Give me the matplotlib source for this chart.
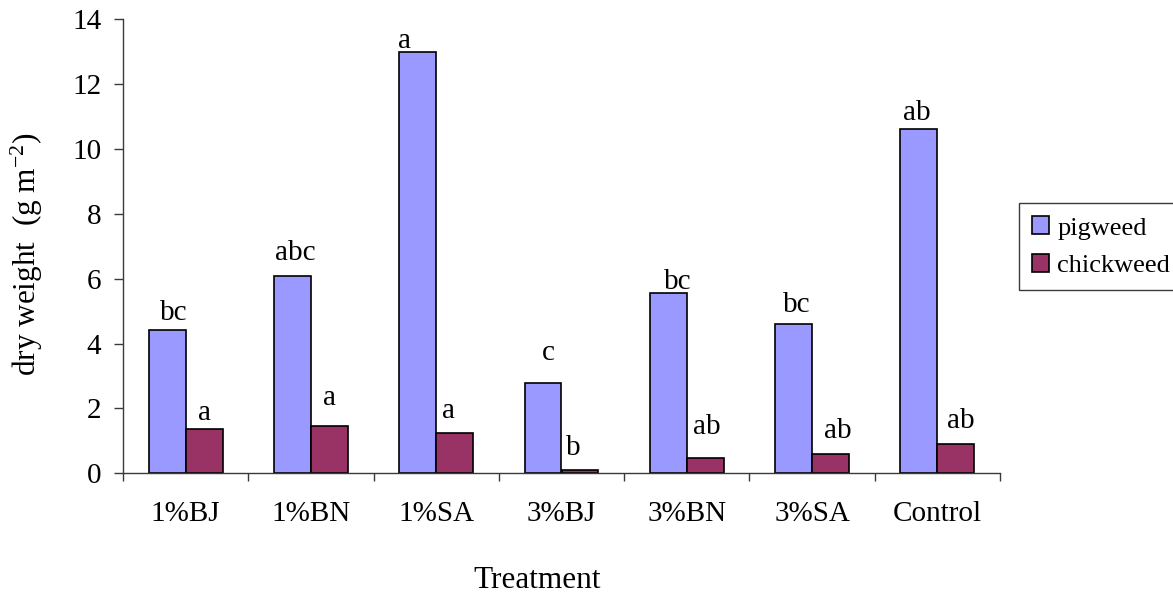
import numpy as np
import matplotlib
matplotlib.use("Agg")
import matplotlib.pyplot as plt
from matplotlib.ticker import FixedLocator

# --- dados ---
treatments = ['1%BJ', '1%BN', '1%SA', '3%BJ', '3%BN', '3%SA', 'Control']
pigweed = [4.42, 6.07, 12.97, 2.77, 5.57, 4.59, 10.61]
chickweed = [1.36, 1.47, 1.25, 0.09, 0.48, 0.59, 0.91]
pigweed_letters = ['bc', 'abc', 'a', 'c', 'bc', 'bc', 'ab']
chickweed_letters = ['a', 'a', 'a', 'b', 'ab', 'ab', 'ab']

# deslocamento das letras (pixels) em relação ao topo da barra
pig_dx = [7, 3, -13, 5, 9, 3, -2]
pig_dy = [10, 16, 4, 23, 4, 12, 9]
chick_dx = [0, 0, -6, -7, 2, 7, 5]
chick_dy = [9, 21, 15, 15, 24, 16, 16]

PIG_COLOR = '#9999FF'
CHICK_COLOR = '#993366'
SPINE_COLOR = '#3a3a3a'

plt.rcParams['font.family'] = ['Liberation Serif', 'DejaVu Serif']
plt.rcParams['mathtext.fontset'] = 'custom'
plt.rcParams['mathtext.rm'] = 'Liberation Serif'
plt.rcParams['mathtext.default'] = 'rm'

fig = plt.figure(figsize=(11.73, 5.96), dpi=100)
ax = fig.add_axes([123 / 1173, 0.2059, 877 / 1173, 0.7621])

x = np.arange(len(treatments))
width = 0.295
b1 = ax.bar(x - width / 2, pigweed, width, color=PIG_COLOR, edgecolor='black',
            linewidth=1.2, label='pigweed')
b2 = ax.bar(x + width / 2, chickweed, width, color=CHICK_COLOR, edgecolor='black',
            linewidth=1.2, label='chickweed')

for i in range(len(treatments)):
    ax.annotate(pigweed_letters[i], (x[i] - width / 2, pigweed[i]),
                xytext=(pig_dx[i], pig_dy[i]), textcoords='offset pixels',
                ha='center', va='baseline', fontsize=21)
    ax.annotate(chickweed_letters[i], (x[i] + width / 2, chickweed[i]),
                xytext=(chick_dx[i], chick_dy[i]), textcoords='offset pixels',
                ha='center', va='baseline', fontsize=21)

ax.set_xlim(-0.5, len(treatments) - 0.5)
ax.set_ylim(0, 14)
ax.set_yticks(np.arange(0, 15, 2))

# ticks maiores nas fronteiras, rótulos nos centros
ax.xaxis.set_major_locator(FixedLocator(np.arange(-0.5, len(treatments), 1.0)))
ax.xaxis.set_minor_locator(FixedLocator(x))
ax.set_xticklabels([])
ax.set_xticklabels(treatments, minor=True)
ax.tick_params(axis='x', which='major', direction='out', length=6, width=1, color=SPINE_COLOR)
ax.tick_params(axis='x', which='minor', length=0, pad=20, labelsize=21)
ax.tick_params(axis='y', direction='out', length=6.5, width=1, color=SPINE_COLOR,
               pad=9, labelsize=21)

for side in ['top', 'right']:
    ax.spines[side].set_visible(False)
for side in ['left', 'bottom']:
    ax.spines[side].set_color(SPINE_COLOR)
    ax.spines[side].set_linewidth(1)

fig.text(27 / 1173, 0.574, 'dry weight  (g m$^{-2}$)', rotation=90,
         ha='center', va='center', fontsize=22.5)
fig.text(537 / 1173, 8 / 596, 'Treatment', ha='center', va='baseline', fontsize=22.5)

leg = fig.legend(handles=[b1, b2], loc='upper left', bbox_to_anchor=(1019 / 1173, 0.659),
                 fontsize=19, frameon=True, fancybox=False, framealpha=1,
                 borderaxespad=0, handlelength=0.65, handleheight=0.65,
                 handletextpad=0.3, labelspacing=0.55, borderpad=0.5)
leg.get_frame().set_edgecolor(SPINE_COLOR)
leg.get_frame().set_linewidth(1)

fig.savefig('out.png', dpi=100)
